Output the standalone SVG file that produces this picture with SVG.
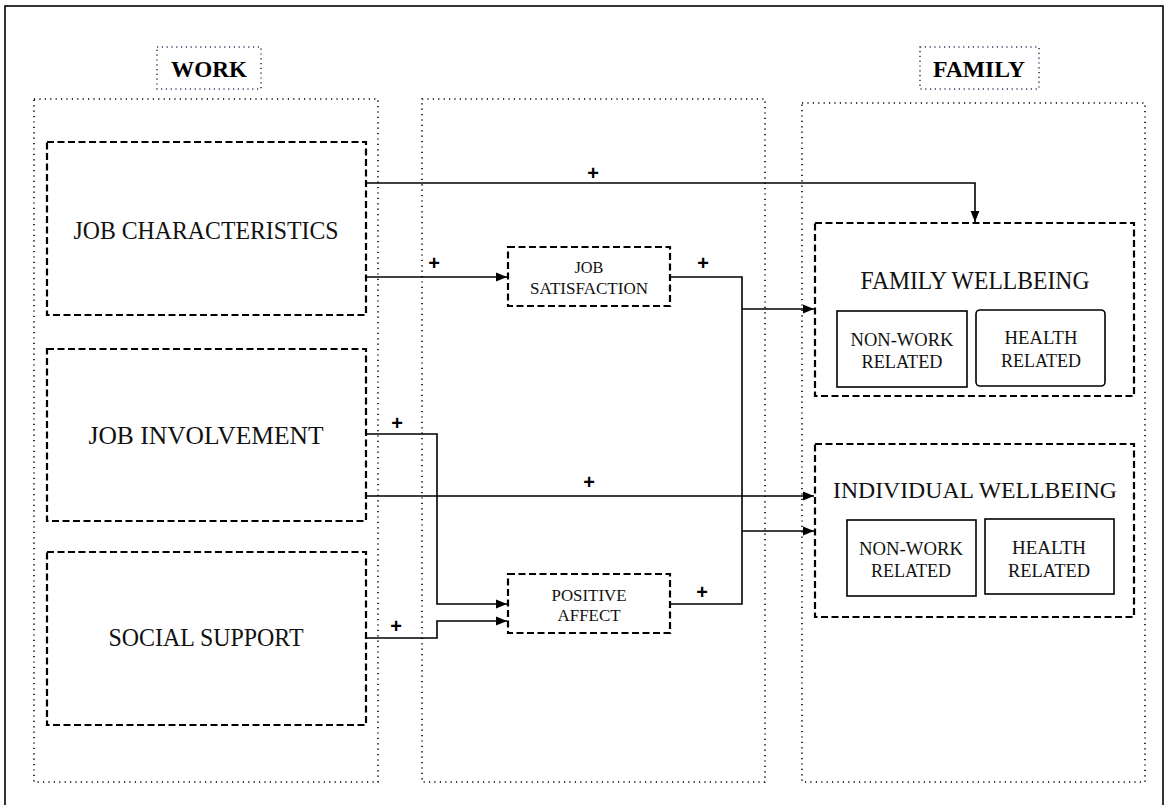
<svg xmlns="http://www.w3.org/2000/svg" width="1170" height="805" viewBox="0 0 1170 805">
<style>
.col{fill:none;stroke:#000;stroke-width:1.6;stroke-dasharray:1.2 4.2}
.lab{fill:none;stroke:#2b3e5c;stroke-width:1.6;stroke-dasharray:1.2 3.6}
.dash{fill:#fff;stroke:#000;stroke-width:2.2;stroke-dasharray:7 3.5}
.sub{fill:#fff;stroke:#000;stroke-width:1.6}
.t{font-family:"Liberation Serif","Times New Roman",serif;fill:#111;text-anchor:middle}
.s{font-size:19px}
.hb{font-family:"Liberation Serif","Times New Roman",serif;font-weight:bold;fill:#000;text-anchor:middle;font-size:23px}
.plus{font-family:"Liberation Sans",Arial,sans-serif;font-weight:bold;font-size:20px;text-anchor:middle;fill:#000}
.c{fill:none;stroke:#000;stroke-width:1.6}
</style>
<defs>
<marker id="ah" viewBox="0 0 10 10" refX="10" refY="5" markerWidth="11" markerHeight="11" markerUnits="userSpaceOnUse" orient="auto">
<path d="M0,1 L10,5 L0,9 Z" fill="#000"/>
</marker>
</defs>
<rect x="5" y="6" width="1158" height="812" fill="#fff" stroke="#000" stroke-width="1.6"/>

<g id="work-label">
<rect class="lab" x="157" y="47" width="104" height="42"/>
<text class="hb" x="209" y="77" textLength="76" lengthAdjust="spacingAndGlyphs">WORK</text>
</g>
<g id="family-label">
<rect class="lab" x="920" y="47" width="119" height="42"/>
<text class="hb" x="979" y="77" textLength="92" lengthAdjust="spacingAndGlyphs">FAMILY</text>
</g>

<g id="work-column"><rect class="col" x="34" y="99" width="344" height="683"/></g>
<g id="mediator-column"><rect class="col" x="422" y="99" width="343" height="683"/></g>
<g id="family-column"><rect class="col" x="802" y="103" width="343" height="679"/></g>

<g id="connectors">
<polyline class="c" points="366,183 975,183 975,222" marker-end="url(#ah)"/>
<polyline class="c" points="366,277 507,277" marker-end="url(#ah)"/>
<polyline class="c" points="670,277 742,277 742,604 670,604"/>
<polyline class="c" points="742,309 814,309" marker-end="url(#ah)"/>
<polyline class="c" points="742,531 814,531" marker-end="url(#ah)"/>
<polyline class="c" points="366,434 437,434 437,604 507,604" marker-end="url(#ah)"/>
<polyline class="c" points="366,496 814,496" marker-end="url(#ah)"/>
<polyline class="c" points="366,638 437,638 437,621 507,621" marker-end="url(#ah)"/>
<text class="plus" x="593" y="180">+</text>
<text class="plus" x="434" y="270">+</text>
<text class="plus" x="703" y="270">+</text>
<text class="plus" x="397" y="430">+</text>
<text class="plus" x="589" y="489">+</text>
<text class="plus" x="702" y="599">+</text>
<text class="plus" x="396" y="633">+</text>
</g>

<g id="job-characteristics">
<rect class="dash" x="47" y="142" width="319" height="173"/>
<text class="t" x="206" y="239" font-size="26" textLength="265" lengthAdjust="spacingAndGlyphs">JOB CHARACTERISTICS</text>
</g>
<g id="job-involvement">
<rect class="dash" x="47" y="349" width="319" height="172"/>
<text class="t" x="206" y="444" font-size="26" textLength="235" lengthAdjust="spacingAndGlyphs">JOB INVOLVEMENT</text>
</g>
<g id="social-support">
<rect class="dash" x="47" y="552" width="319" height="173"/>
<text class="t" x="206" y="646" font-size="26" textLength="195" lengthAdjust="spacingAndGlyphs">SOCIAL SUPPORT</text>
</g>

<g id="job-satisfaction">
<rect class="dash" x="508" y="247" width="162" height="59"/>
<text class="t" x="589" y="273" font-size="17" textLength="29" lengthAdjust="spacingAndGlyphs">JOB</text>
<text class="t" x="589" y="294" font-size="17" textLength="118" lengthAdjust="spacingAndGlyphs">SATISFACTION</text>
</g>
<g id="positive-affect">
<rect class="dash" x="508" y="574" width="162" height="59"/>
<text class="t" x="589" y="601" font-size="17" textLength="75" lengthAdjust="spacingAndGlyphs">POSITIVE</text>
<text class="t" x="589" y="621" font-size="17" textLength="63" lengthAdjust="spacingAndGlyphs">AFFECT</text>
</g>

<g id="family-wellbeing">
<rect class="dash" x="815" y="223" width="319" height="173"/>
<text class="t" x="975" y="289" font-size="25" textLength="229" lengthAdjust="spacingAndGlyphs">FAMILY WELLBEING</text>
</g>
<g id="fw-nonwork">
<rect class="sub" x="837" y="311" width="130" height="76"/>
<text class="t s" x="902" y="346" textLength="103" lengthAdjust="spacingAndGlyphs">NON-WORK</text>
<text class="t s" x="902" y="368" textLength="81" lengthAdjust="spacingAndGlyphs">RELATED</text>
</g>
<g id="fw-health">
<rect class="sub" x="976" y="310" width="129" height="76" rx="4"/>
<text class="t s" x="1041" y="344" textLength="73" lengthAdjust="spacingAndGlyphs">HEALTH</text>
<text class="t s" x="1041" y="367" textLength="80" lengthAdjust="spacingAndGlyphs">RELATED</text>
</g>

<g id="individual-wellbeing">
<rect class="dash" x="815" y="444" width="319" height="173"/>
<text class="t" x="975" y="498" font-size="24" textLength="284" lengthAdjust="spacingAndGlyphs">INDIVIDUAL WELLBEING</text>
</g>
<g id="iw-nonwork">
<rect class="sub" x="847" y="520" width="129" height="76"/>
<text class="t s" x="911" y="555" textLength="104" lengthAdjust="spacingAndGlyphs">NON-WORK</text>
<text class="t s" x="911" y="577" textLength="80" lengthAdjust="spacingAndGlyphs">RELATED</text>
</g>
<g id="iw-health">
<rect class="sub" x="985" y="519" width="129" height="75"/>
<text class="t s" x="1049" y="554" textLength="74" lengthAdjust="spacingAndGlyphs">HEALTH</text>
<text class="t s" x="1049" y="577" textLength="82" lengthAdjust="spacingAndGlyphs">RELATED</text>
</g>
</svg>
